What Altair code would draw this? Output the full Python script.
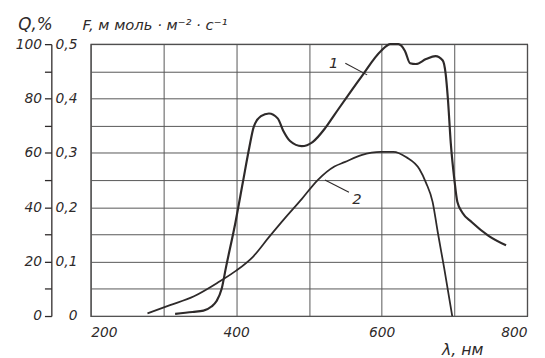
import altair as alt
import pandas as pd

# Curve 1: Q, % vs wavelength (nm)
wl1 = [316, 340, 355, 366, 373, 380, 386, 399, 409, 418, 424, 434, 445, 457, 465,
       474, 490, 505, 522, 535, 572, 599, 612, 623, 632, 639, 647, 661, 674, 684, 688,
       691, 695, 700, 704, 711, 724, 747, 771]
q1 = [0.8, 1.5, 2, 3.5, 5.5, 10, 18, 34.5, 49, 62, 69.5, 73.5, 74.5, 72.7, 68,
      64.4, 62.5, 64, 69, 74, 88, 97.5, 100, 100, 97.5, 93, 92.7, 94.5, 95.6, 94, 89,
      80, 63.6, 50, 42, 38, 34.5, 29.5, 26]

# Curve 2: F, mmol m-2 s-1 vs wavelength (nm)
wl2 = [278, 309, 342, 377, 400, 423, 445, 467, 490, 512, 535, 549, 572, 599, 616, 634,
       652, 661, 670, 677, 686, 697]
f2 = [0.005, 0.02, 0.0365, 0.0635, 0.0835, 0.109, 0.145, 0.18, 0.215, 0.25, 0.275, 0.283,
      0.296, 0.302, 0.302, 0.292, 0.27, 0.245, 0.21, 0.155, 0.0875, 0.0]

# curve labels (in Q, % units)
lab_text = ["1", "2"]
lab_wl = [534, 566]
lab_q = [93, 43]
lead_wl = [550, 555]
lead_wl2 = [580, 522]
lead_q = [93, 45.5]
lead_q2 = [88.7, 50]

FONT = "DejaVu Sans"
INK = "#2e2a2a"
GRID = "#555555"

d1 = pd.DataFrame({"wl": wl1, "q": q1})
d2 = pd.DataFrame({"wl": wl2, "f": f2})
dl = pd.DataFrame({"t": lab_text, "wl": lab_wl, "q": lab_q})
dr = pd.DataFrame({"wl": lead_wl, "wl2": lead_wl2, "q": lead_q, "q2": lead_q2})

xscale = alt.Scale(domain=[200, 800], nice=False, zero=False)
qscale = alt.Scale(domain=[0, 100], nice=False)
fscale = alt.Scale(domain=[0, 0.5], nice=False)

xaxis = alt.Axis(
    values=list(range(200, 801, 100)), format="d",
    labelExpr="datum.value % 200 == 0 ? datum.label : ''",
    grid=True, gridColor=GRID, gridWidth=1, tickSize=0, domain=False,
    labelPadding=10, labelFontSize=14, labelFont=FONT, labelFontStyle="italic",
    labelColor=INK,
    title="λ, нм", titleX=356, titleY=34, titleAlign="left", titleBaseline="middle",
    titleFont=FONT, titleFontStyle="italic", titleFontWeight="normal",
    titleFontSize=16, titleColor=INK,
)

faxis = alt.Axis(
    orient="left",
    values=[i * 0.05 for i in range(11)],
    labelExpr="datum.value == 0 ? '0' : (abs(datum.value*10 - round(datum.value*10)) < 1e-6 ? replace(format(datum.value, '.1f'), '.', ',') : '')",
    grid=True, gridColor=GRID, gridWidth=1, tickSize=0, domain=False,
    labelPadding=14, labelFontSize=14, labelFont=FONT, labelFontStyle="italic",
    labelColor=INK,
    title="F, м моль · м⁻² · с⁻¹", titleAngle=0, titleX=-9, titleY=-20,
    titleAlign="left", titleBaseline="middle",
    titleFont=FONT, titleFontStyle="italic", titleFontWeight="normal",
    titleFontSize=15, titleColor=INK,
)

qaxis = alt.Axis(
    orient="left",
    values=list(range(0, 101, 10)), format="d",
    labelExpr="datum.value % 20 == 0 ? datum.label : ''",
    grid=False, domain=True, domainColor=INK, domainWidth=1.3,
    ticks=True, tickColor=INK, tickWidth=1.3, tickSize=7,
    offset=40, labelPadding=3, labelFontSize=14, labelFont=FONT,
    labelFontStyle="italic", labelColor=INK,
    title="Q,%", titleAngle=0, titleX=-34, titleY=-20,
    titleAlign="left", titleBaseline="middle",
    titleFont=FONT, titleFontStyle="italic", titleFontWeight="normal",
    titleFontSize=17, titleColor=INK,
)

X = alt.X("wl:Q", scale=xscale, axis=xaxis)

curve1 = alt.Chart(d1).mark_line(
    color=INK, strokeWidth=2.2, interpolate="monotone"
).encode(
    x=X,
    y=alt.Y("q:Q", scale=qscale, axis=qaxis),
)

curve2 = alt.Chart(d2).mark_line(
    color=INK, strokeWidth=1.8, interpolate="monotone"
).encode(
    x=X,
    y=alt.Y("f:Q", scale=fscale, axis=faxis),
)

leaders = alt.Chart(dr).mark_rule(color=INK, strokeWidth=1.1).encode(
    x=X,
    x2="wl2:Q",
    y=alt.Y("q:Q", scale=qscale, axis=None),
    y2="q2:Q",
)

labels = alt.Chart(dl).mark_text(
    font=FONT, fontStyle="italic", fontSize=15, color=INK
).encode(
    x=X,
    y=alt.Y("q:Q", scale=qscale, axis=None),
    text="t:N",
)

chart = alt.layer(curve1, curve2, leaders, labels).resolve_scale(
    y="independent"
).properties(
    width=443, height=276,
    autosize=alt.AutoSizeParams(type="none"),
    padding={"left": 84, "top": 34, "right": 10, "bottom": 46},
    background="white",
).configure_view(stroke=INK, strokeWidth=1.2)

chart.save("out.html", embed_options={"renderer": "svg", "actions": False})
